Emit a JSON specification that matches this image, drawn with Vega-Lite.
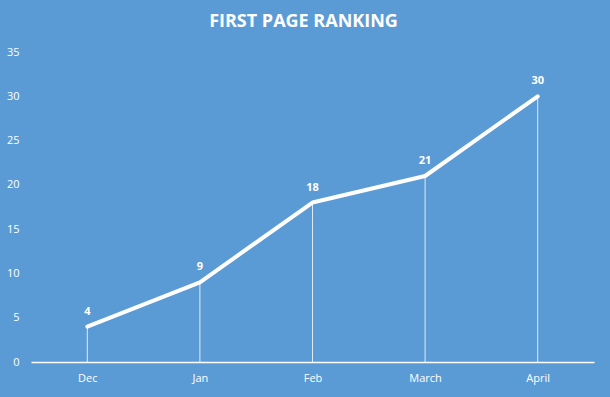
{
  "$schema": "https://vega.github.io/schema/vega-lite/v6.json",
  "autosize": "none",
  "width": 563,
  "height": 310,
  "padding": {"left": 31, "top": 52, "right": 16, "bottom": 35},
  "background": "#5B9BD5",
  "config": {"view": {"stroke": null}},
  "title": {
    "text": "FIRST PAGE RANKING",
    "color": "white",
    "font": "Open Sans",
    "fontWeight": "bold",
    "fontSize": 18,
    "anchor": "middle",
    "dx": -9,
    "offset": 15
  },
  "data": {"values": [
    {"month": "Dec", "value": 4},
    {"month": "Jan", "value": 9},
    {"month": "Feb", "value": 18},
    {"month": "March", "value": 21},
    {"month": "April", "value": 30}
  ]},
  "encoding": {
    "x": {"field": "month", "type": "ordinal", "sort": null,
      "scale": {"type": "point", "padding": 0.5},
      "axis": {"title": null, "labelAngle": 0, "labelColor": "white", "labelFont": "Open Sans", "labelFontSize": 11, "labelPadding": 10, "ticks": false, "domainColor": "white", "domainWidth": 1.5, "grid": false}},
    "y": {"field": "value", "type": "quantitative",
      "scale": {"domain": [0, 35]},
      "axis": {"title": null, "values": [0,5,10,15,20,25,30,35], "labelColor": "white", "labelFont": "Open Sans", "labelFontSize": 11, "labelPadding": 12, "ticks": false, "domain": false, "grid": false}}
  },
  "layer": [
    {"mark": {"type": "rule", "color": "white", "strokeWidth": 1, "opacity": 0.8}, "encoding": {"y2": {"datum": 0}}},
    {"mark": {"type": "line", "color": "white", "strokeWidth": 4, "strokeCap": "round", "strokeJoin": "round"}},
    {"mark": {"type": "text", "color": "white", "font": "Open Sans", "fontWeight": "bold", "fontSize": 11, "dy": -15}, "encoding": {"text": {"field": "value"}}}
  ]
}
